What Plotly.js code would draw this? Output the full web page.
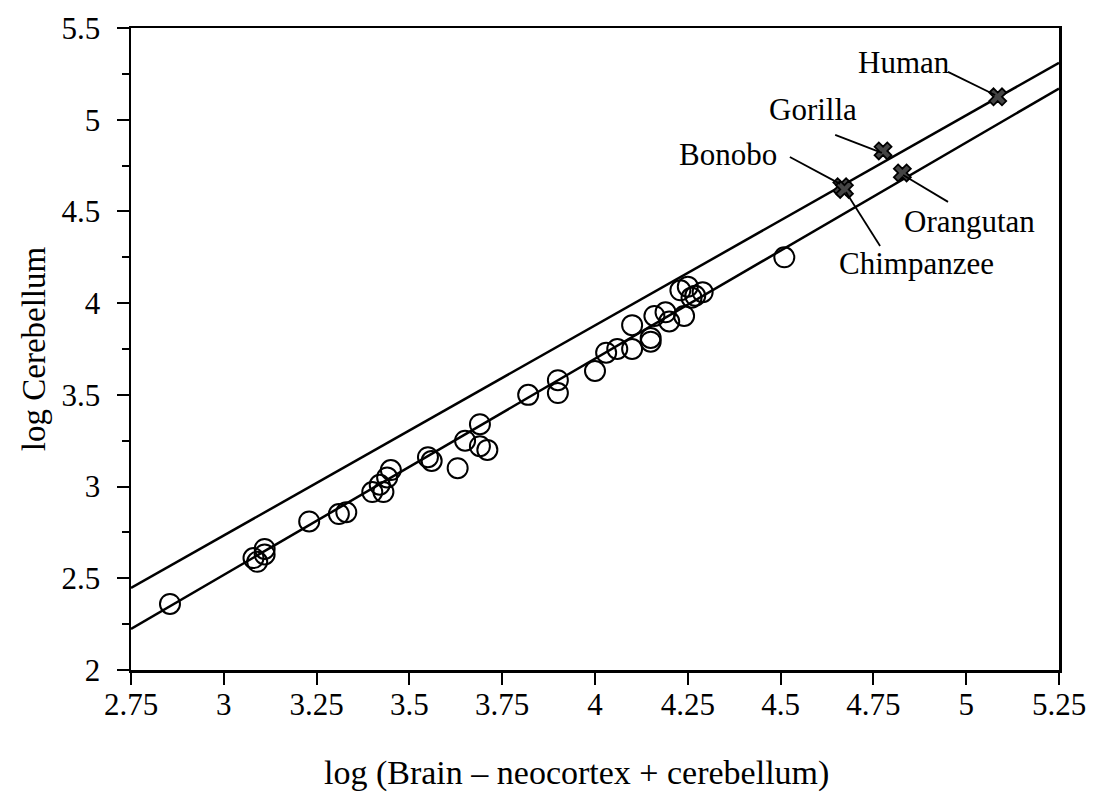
<!DOCTYPE html>
<html>
<head>
<meta charset="utf-8">
<script src="https://cdn.plot.ly/plotly-3.0.1.min.js"></script>
<style>html,body{margin:0;padding:0;background:#fff;}#chart{width:1102px;height:802px;}</style>
</head>
<body>
<div id="chart"></div>
<script>
// Primates (circles)
const primateX = [2.855, 3.08, 3.09, 3.11, 3.11, 3.23, 3.31, 3.33, 3.40, 3.42, 3.43, 3.44, 3.45,
  3.55, 3.56, 3.63, 3.65, 3.69, 3.69, 3.71, 3.82, 3.90, 3.90, 4.00, 4.03, 4.06, 4.10, 4.10,
  4.15, 4.15, 4.16, 4.19, 4.20, 4.23, 4.24, 4.25, 4.26, 4.27, 4.29, 4.51];
const primateY = [2.36, 2.61, 2.59, 2.66, 2.63, 2.81, 2.85, 2.86, 2.97, 3.01, 2.97, 3.05, 3.09,
  3.16, 3.14, 3.10, 3.25, 3.34, 3.22, 3.20, 3.50, 3.58, 3.51, 3.63, 3.73, 3.75, 3.75, 3.88,
  3.81, 3.79, 3.93, 3.95, 3.90, 4.07, 3.93, 4.09, 4.03, 4.04, 4.06, 4.25];

// Great apes (crosses)
const apeNames = ["Bonobo", "Chimpanzee", "Gorilla", "Orangutan", "Human"];
const apeX = [4.665, 4.672, 4.776, 4.828, 5.085];
const apeY = [4.635, 4.620, 4.830, 4.710, 5.125];

// Regression lines
const fitX = [2.75, 5.25];
const upperFitY = [2.447, 5.31];
const lowerFitY = [2.224, 5.17];

// Axis ticks
const xTickVals = [2.75, 3, 3.25, 3.5, 3.75, 4, 4.25, 4.5, 4.75, 5, 5.25];
const xTickText = ["2.75", "3", "3.25", "3.5", "3.75", "4", "4.25", "4.5", "4.75", "5", "5.25"];
const yTickVals = [2, 2.5, 3, 3.5, 4, 4.5, 5, 5.5];
const yTickText = ["2", "2.5", "3", "3.5", "4", "4.5", "5", "5.5"];
const yMinorTickVals = [2.25, 2.75, 3.25, 3.75, 4.25, 4.75, 5.25];

// Label placement (data coordinates) for the ape annotations
const labelX = [4.358, 4.865, 4.587, 5.010, 4.832];
const labelY = [4.808, 4.214, 5.053, 4.443, 5.310];
const leaderStartX = [4.525, 4.768, 4.647, 4.951, 4.951];
const leaderStartY = [4.797, 4.312, 4.917, 4.552, 5.261];
const leaderEndX = [4.660, 4.676, 4.773, 4.830, 5.078];
const leaderEndY = [4.650, 4.606, 4.819, 4.699, 5.135];

const FONT = "Liberation Serif, Times New Roman, serif";

const traces = [
  {x: fitX, y: upperFitY, mode: "lines", line: {color: "#000", width: 2.5}, hoverinfo: "skip", showlegend: false},
  {x: fitX, y: lowerFitY, mode: "lines", line: {color: "#000", width: 2.5}, hoverinfo: "skip", showlegend: false},
  {x: primateX, y: primateY, mode: "markers", showlegend: false,
   marker: {symbol: "circle-open", size: 20, color: "#000", line: {width: 2, color: "#000"}}},
  {x: apeX, y: apeY, mode: "markers", text: apeNames, showlegend: false,
   marker: {symbol: "x", size: 15, color: "#444", line: {width: 1.8, color: "#000"}}}
];

const shapes = apeNames.map((n, i) => ({
  type: "line", xref: "x", yref: "y",
  x0: leaderStartX[i], y0: leaderStartY[i], x1: leaderEndX[i], y1: leaderEndY[i],
  line: {color: "#000", width: 1.8}
}));

const annotations = apeNames.map((n, i) => ({
  x: labelX[i], y: labelY[i], xref: "x", yref: "y", text: n, showarrow: false,
  xanchor: "center", yanchor: "middle", font: {family: FONT, size: 31, color: "#000"}
}));
annotations.push({
  xref: "paper", yref: "paper", x: 0.48, y: -0.16, xanchor: "center", yanchor: "middle",
  showarrow: false, text: "log (Brain \u2013 neocortex + cerebellum)",
  font: {family: FONT, size: 34, color: "#000"}
});

const layout = {
  width: 1102, height: 802,
  margin: {l: 131, r: 43, t: 28, b: 132},
  paper_bgcolor: "#fff", plot_bgcolor: "#fff",
  showlegend: false,
  font: {family: FONT, color: "#000"},
  xaxis: {
    range: [2.75, 5.25], tickvals: xTickVals, ticktext: xTickText,
    ticks: "outside", ticklen: 12, tickwidth: 2, tickcolor: "#000",
    showline: true, linecolor: "#000", linewidth: 2.5, mirror: true,
    showgrid: false, zeroline: false,
    tickfont: {family: FONT, size: 31, color: "#000"}, ticklabelstandoff: -7
  },
  yaxis: {
    range: [2, 5.5], tickvals: yTickVals, ticktext: yTickText,
    ticks: "outside", ticklen: 12, tickwidth: 2, tickcolor: "#000",
    minor: {tickvals: yMinorTickVals, ticks: "outside", ticklen: 7, tickwidth: 2, tickcolor: "#000", showgrid: false},
    showline: true, linecolor: "#000", linewidth: 2.5, mirror: true,
    showgrid: false, zeroline: false,
    tickfont: {family: FONT, size: 31, color: "#000"}, ticklabelstandoff: 10,
    title: {text: "log Cerebellum", font: {family: FONT, size: 33, color: "#000"}, standoff: 6}
  },
  shapes: shapes,
  annotations: annotations
};

Plotly.newPlot("chart", traces, layout, {staticPlot: true, displayModeBar: false});
</script>
</body>
</html>
